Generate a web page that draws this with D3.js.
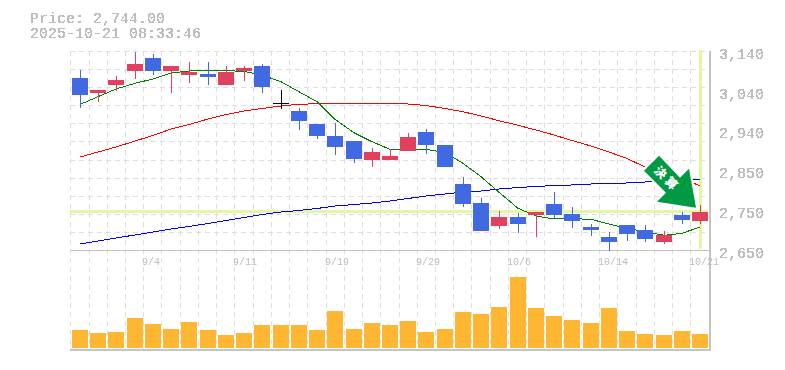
<!DOCTYPE html>
<html><head><meta charset="utf-8">
<script src="https://cdn.jsdelivr.net/npm/d3@7"></script>
<style>
html,body{margin:0;padding:0;background:#fff;overflow:hidden}
svg{display:block}
text{font-family:"Liberation Mono",monospace;fill:#bdbdbd}
</style></head><body><svg width="785" height="370">
<defs><filter id="crisp" x="-5%" y="-20%" width="110%" height="140%">
<feComponentTransfer><feFuncA type="discrete" tableValues="0 1 1"/></feComponentTransfer></filter></defs>
</svg>
<script>
const priceLabel = "Price: 2,744.00";
const stampLabel = "2025-10-21 08:33:46";
const lastPrice = 2744;
const arrowLabel = "決算";
const dateLabels = ["9/4","9/11","9/19","9/29","10/6","10/14","10/21"];
const dateLabelIndex = [4,9,14,19,24,29,34];
const priceTicks = [3140,3042,2944,2846,2748,2650];

// open/close/high/low
const opens  = [3073.5,3036.6,3056.3,3090.8,3122.8,3090.8,3080.9,3083.4,3056.3,3090.8,3103,3011,2992.3,2960.3,2930.7,2918.4,2871.6,2871.6,2893.8,2940.6,2908.5,2812.5,2765.7,2709.1,2731.3,2736.2,2763.3,2738.6,2706.6,2682,2711.6,2699.2,2669.7,2736.2,2721.4];
const closes = [3031.7,3044,3068.6,3108,3090.8,3103,3088.3,3076,3088.3,3098.1,3051.4,3011,2967.6,2930.7,2903.6,2874.1,2891.3,2881.5,2928.2,2908.5,2854.4,2763.3,2696.8,2731.3,2714,2743.6,2736.2,2721.4,2699.2,2669.7,2689.4,2677.1,2686.9,2723.9,2744];
const highs  = [3093.2,3044,3078.4,3137.5,3132.6,3103,3112.9,3112.9,3103,3103,3108,3044,2999.6,2960.3,2962.7,2918.4,2901.2,2898.7,2938.1,2948,2908.5,2829.8,2778,2746,2741.1,2743.6,2792.8,2755.9,2714,2694.3,2711.6,2711.6,2696.8,2743.6,2760.8];
const lows   = [2999.6,3014.4,3041.5,3071.1,3080.9,3036.6,3061.2,3056.3,3056.3,3066.1,3036.6,2997.2,2945.5,2923.3,2883.9,2864.2,2854.4,2871.6,2893.8,2886.4,2854.4,2755.9,2696.8,2701.7,2691.9,2682,2728.8,2704.2,2684.5,2647.5,2672.2,2669.7,2664.8,2714,2714];
const ma25   = [3008.3,3027.5,3046.4,3060.5,3071.1,3085.8,3090.8,3092.5,3091.5,3090,3080.9,3064.4,3039.8,3015.2,2971.8,2938.8,2916.7,2898,2898,2898,2889.6,2863.5,2830.5,2792.1,2752.7,2733.7,2726.3,2727.1,2725.6,2714,2703.4,2695.1,2686.2,2691.1,2706.6];
const ma75   = [2879,2891.3,2903.6,2918.4,2931.9,2947.9,2959,2972.6,2983.6,2992.3,2998.4,3004.6,3008.8,3010.2,3010.7,3010.7,3010.7,3010.2,3009.5,3005.8,2998.4,2990.5,2980,2968.4,2957.1,2945.5,2933.2,2919.6,2906.1,2891.3,2875.3,2854.4,2839.6,2827.3,2807.6];
const ma200  = [2664.8,2672.2,2679.5,2687,2694.3,2701.7,2707.9,2715.3,2722.6,2730,2737.4,2743.6,2747.3,2752.2,2758.3,2762,2765.7,2770.7,2776.8,2783,2787.9,2792.8,2795.3,2800.2,2803.9,2806.4,2808.8,2810.1,2812.5,2813.7,2815,2817.4,2819.9,2821.1,2824.8];
const volumes = [18,15,16,30,24,19,26,18,13,15,23,23,23,18,37,19,25,23,27,16,19,36,34,41,71,40,32,28,25,40,17,14,13,17,14];

const idx = d3.range(closes.length);
const W = 18.235, L = 70.3;
const x = d3.scaleBand().domain(idx).range([L, L + W*idx.length]);
const y = d3.scaleLinear().domain([2650,3140]).range([250,51]);
const yv = d3.scaleLinear().domain([0,98]).range([348,250]);
const svg = d3.select("svg");
const R = 710, T = 51, VB = 349;
const left = i => Math.round(x(i));
const barL = i => Math.round(x(i)+1.7);
const mid = i => barL(i)+8;

const crisp = svg.append("g").attr("shape-rendering","crispEdges");

// grid
const grid = crisp.append("g").attr("stroke","#dedede").attr("stroke-dasharray","5,4").attr("fill","none");
grid.selectAll("line.v").data(idx).join("line").attr("class","v")
  .attr("x1",i=>left(i)+.5).attr("x2",i=>left(i)+.5).attr("y1",T).attr("y2",VB);
const hTicks = d3.range(0,12).map(k=>2650+k*490/11);
grid.selectAll("line.h").data(hTicks).join("line").attr("class","h")
  .attr("x1",L).attr("x2",R).attr("y1",d=>Math.round(y(d))+.5).attr("y2",d=>Math.round(y(d))+.5);

// volume
crisp.append("g").attr("fill","#ffb733").selectAll("rect").data(idx).join("rect")
  .attr("x",barL).attr("width",16).attr("y",i=>yv(volumes[i])).attr("height",i=>yv(0)-yv(volumes[i]));

// highlights
crisp.append("rect").attr("x",70).attr("width",R-72).attr("y",Math.round(y(lastPrice))-2).attr("height",3).attr("fill","#e4f6a4");
crisp.append("rect").attr("x",mid(34)-1).attr("width",3).attr("y",T-1).attr("height",199).attr("fill","#e4f6a4");

// frame
const frame = crisp.append("g").attr("stroke","#c4c4c4").attr("fill","none");
frame.append("path").attr("d",`M${L},250.5H${R}`);
frame.append("path").attr("d",`M${L},350H${R}V${T}`).attr("stroke-width",2);

// moving averages
const line = d3.line().x((d,i)=>mid(i)).y(d=>y(d));
[[ma200,"#0000ff"],[ma75,"#ff0000"],[ma25,"#008000"]].forEach(([s,c])=>{
  crisp.append("path").attr("d",line(s)).attr("fill","none").attr("stroke",c).attr("stroke-width",1);
});

// candles
const col = i => closes[i]>opens[i] ? "#e2405f" : closes[i]<opens[i] ? "#4169e1" : "#000";
const cg = crisp.append("g");
cg.selectAll("rect.w").data(idx).join("rect").attr("class","w")
  .attr("x",mid).attr("width",1).attr("y",i=>y(highs[i])).attr("height",i=>y(lows[i])-y(highs[i])).attr("fill",col);
cg.selectAll("rect.b").data(idx).join("rect").attr("class","b")
  .attr("x",barL).attr("width",16)
  .attr("y",i=>y(Math.max(opens[i],closes[i])))
  .attr("height",i=>Math.max(1,Math.abs(y(opens[i])-y(closes[i])))).attr("fill",col);

// arrow annotation, placed relative to the last candle
const ax = mid(34), ay = y(lastPrice);
const arrowShape = [[-41,-56],[-56,-41],[-34,-19],[-43,-10],[-4,-4],[-11,-43],[-20,-34]];
const ag = svg.append("g").attr("transform",`translate(${ax},${ay})`);
ag.append("polygon").attr("points",arrowShape.join(" ")).attr("fill","#009944").attr("stroke","#fff").attr("stroke-width",4).attr("paint-order","stroke").attr("stroke-linejoin","miter");
ag.append("text").attr("transform","translate(-33,-33) rotate(45)").attr("text-anchor","middle").attr("dy","0.36em")
  .style("font-family",'"Noto Sans CJK JP"').style("font-size","12px").style("font-weight","900").style("letter-spacing","3px").style("fill","#fff").text(arrowLabel);

// text
const tg = svg.append("g").attr("filter","url(#crisp)");
tg.append("text").attr("x",30).attr("y",23).style("font-size","15px").text(priceLabel);
tg.append("text").attr("x",30).attr("y",38).style("font-size","15px").text(stampLabel);
const yAxis = d3.axisRight(y).tickValues(priceTicks).tickSize(0).tickPadding(0)
  .tickFormat(d=>d3.format(",")(Math.round(d/10)*10));
const ya = tg.append("g").attr("transform","translate(719,2.5)").call(yAxis);
ya.select(".domain").remove();
ya.selectAll("text").style("font-size","15px").style("fill","#bdbdbd").attr("font-family",null);
const xg = svg.append("g");
xg.selectAll("text").data(dateLabels).join("text").attr("x",(d,k)=>left(dateLabelIndex[k])-1).attr("y",265)
  .style("font-size","10px").text(d=>d);
</script></body></html>
